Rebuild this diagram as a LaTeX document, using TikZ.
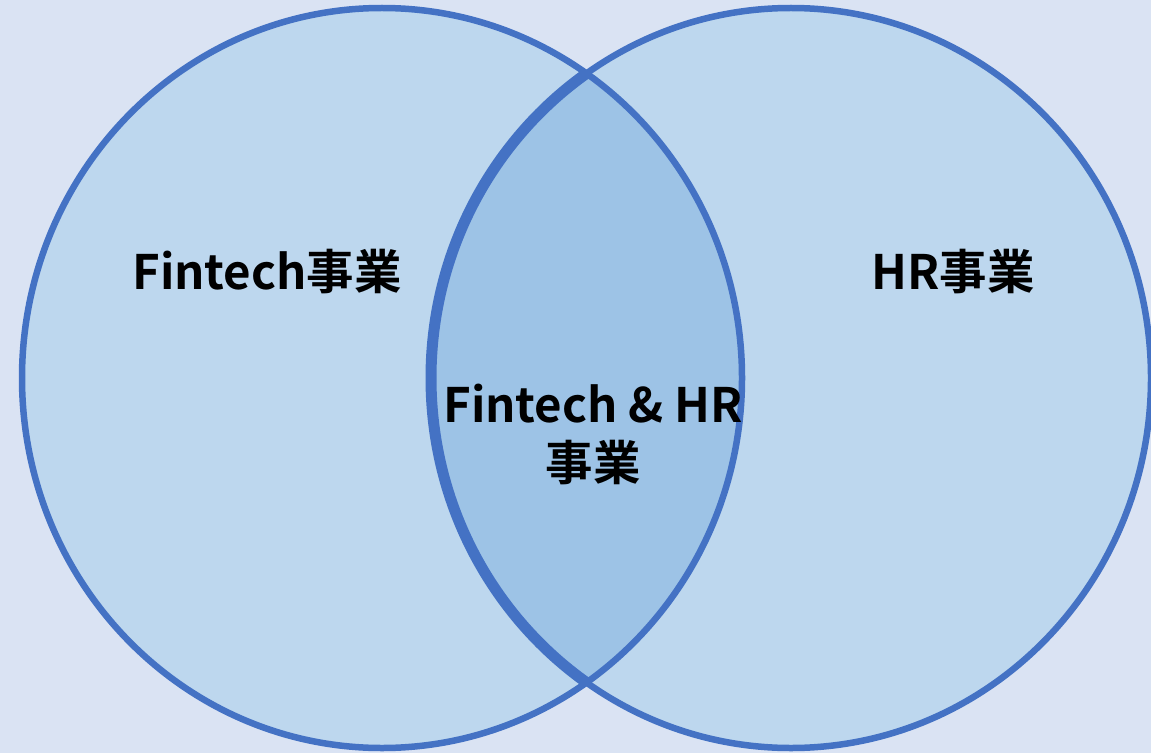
\documentclass[tikz,border=0pt]{standalone}
\usepackage{fontspec}
\setmainfont{Noto Sans CJK JP}[BoldFont={Noto Sans CJK JP Bold}]
\usetikzlibrary{positioning}
\definecolor{bgblue}{HTML}{DAE3F3}
\definecolor{setblue}{HTML}{BDD7EE}
\definecolor{lensblue}{HTML}{9DC3E6}
\definecolor{ringblue}{HTML}{4472C4}
\tikzset{
  ring/.style={draw=ringblue,line width=0.13cm},
  setlabel/.style={font=\fontsize{27}{33}\selectfont\bfseries,align=center,inner sep=0pt}
}
\begin{document}
\begin{tikzpicture}[x=0.02cm,y=-0.02cm]
        \fill[bgblue] (0,0) rectangle (1151,753);
        \useasboundingbox (0,0) rectangle (1151,753);
        \fill[setblue] (382,378) ellipse[x radius=360,y radius=370];
        \fill[setblue] (791,378) ellipse[x radius=360,y radius=370];
        \begin{scope}
            \clip (382,378) ellipse[x radius=360,y radius=370];
            \fill[lensblue] (791,378) ellipse[x radius=360,y radius=370];
        \end{scope}
        \draw[ring] (382,378) ellipse[x radius=360,y radius=370];
        \draw[ring] (791,378) ellipse[x radius=360,y radius=370];
        % heavier stroke on the lens' left side
        \begin{scope}
            \clip (382,378) ellipse[x radius=360,y radius=370];
            \draw[ring,line width=0.22cm] (791,378) ellipse[x radius=360,y radius=370];
        \end{scope}
        \node[setlabel] (fintech) at (267,272) {Fintech事業};
        \node[setlabel] (hr) at (953,272) {HR事業};
        \node[setlabel] (both) at (593,434) {Fintech \& HR\\事業};
    \end{tikzpicture}
\end{document}
